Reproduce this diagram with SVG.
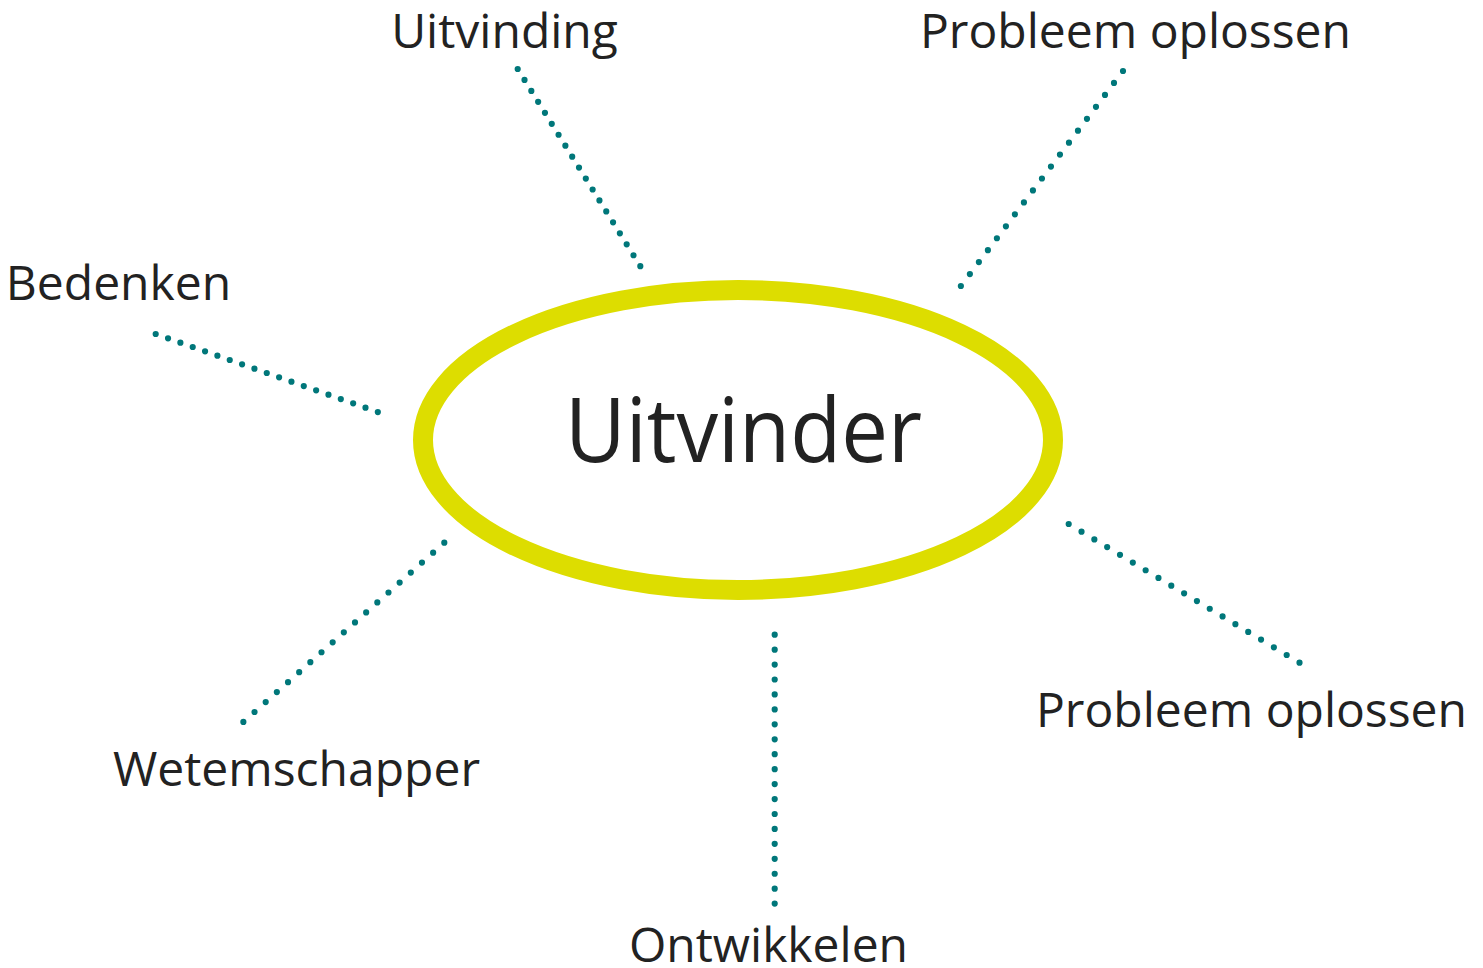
<svg xmlns="http://www.w3.org/2000/svg" width="1483" height="968" viewBox="0 0 1483 968">
<style>
.lbl{font-family:"Open Sans","Noto Sans",sans-serif;font-size:48px;fill:#222222}
.big{font-family:"Open Sans","Noto Sans",sans-serif;font-size:90px;fill:#222222}
.dot{stroke:#00777a;stroke-width:6.2;stroke-linecap:round;fill:none}
</style>
<rect width="1483" height="968" fill="#ffffff"/>
<g id="connectors">
<line class="dot" x1="517.7" y1="69" x2="640.5" y2="266.5" stroke-dasharray="0 12.9"/>
<line class="dot" x1="1123" y1="71" x2="960.5" y2="286.5" stroke-dasharray="0 14.96"/>
<line class="dot" x1="155.7" y1="334" x2="378" y2="412.1" stroke-dasharray="0 13.08"/>
<line class="dot" x1="444.3" y1="542.7" x2="243" y2="722.3" stroke-dasharray="0 14.96"/>
<line class="dot" x1="1068.7" y1="524" x2="1300.5" y2="663.3" stroke-dasharray="0 14.96"/>
<line class="dot" x1="774.7" y1="634.7" x2="774.7" y2="904" stroke-dasharray="0 14.94"/>
</g>
<g id="center">
<ellipse cx="738" cy="440" rx="315" ry="150" fill="#ffffff" stroke="#dddd00" stroke-width="20"/>
<text class="big" x="743.5" y="462" text-anchor="middle" textLength="357" lengthAdjust="spacingAndGlyphs">Uitvinder</text>
</g>
<g id="n-uitvinding"><text class="lbl" x="504.5" y="48" text-anchor="middle">Uitvinding</text></g>
<g id="n-probleem1"><text class="lbl" x="1135.5" y="48" text-anchor="middle">Probleem oplossen</text></g>
<g id="n-bedenken"><text class="lbl" x="118.5" y="300" text-anchor="middle">Bedenken</text></g>
<g id="n-wetemschapper"><text class="lbl" x="296.5" y="786" text-anchor="middle">Wetemschapper</text></g>
<g id="n-probleem2"><text class="lbl" x="1251.5" y="727" text-anchor="middle">Probleem oplossen</text></g>
<g id="n-ontwikkelen"><text class="lbl" x="768.5" y="962" text-anchor="middle">Ontwikkelen</text></g>
</svg>
